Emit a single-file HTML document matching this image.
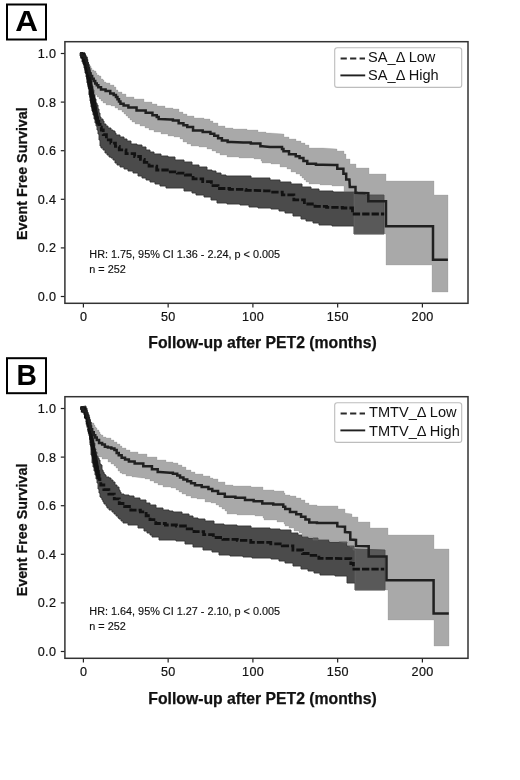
<!DOCTYPE html>
<html><head><meta charset="utf-8"><style>
html,body{margin:0;padding:0;background:#fff;}
svg{display:block;will-change:transform;}
text{font-family:"Liberation Sans",sans-serif;fill:#111;}
.tk{font-size:12.6px;letter-spacing:0.4px;stroke:#111;stroke-width:0.2px;}
.ax{font-size:15.75px;font-weight:bold;stroke:#111;stroke-width:0.25px;}
.ay{font-size:14.3px;font-weight:bold;stroke:#111;stroke-width:0.25px;}
.lg{font-size:14.58px;}
.hr{font-size:10.85px;stroke:#111;stroke-width:0.15px;}
.pl{font-size:30px;font-weight:bold;fill:#000;}
</style></head><body>
<svg width="520" height="780" viewBox="0 0 520 780">
<rect width="520" height="780" fill="#fff"/>
<polygon points="85.00,53.00 85.00,55.00 86.00,55.00 86.00,57.00 87.00,57.00 87.00,59.00 87.00,62.00 88.00,62.00 88.00,64.00 89.00,64.00 89.00,66.00 89.00,68.00 90.00,68.00 90.00,70.00 90.00,72.00 91.00,72.00 91.00,74.00 91.00,76.00 91.00,78.00 92.00,78.00 92.00,80.00 92.00,82.00 92.00,84.00 92.00,86.00 93.00,86.00 93.00,88.00 93.00,90.00 94.00,90.00 94.00,92.00 94.00,94.00 94.00,95.00 95.00,95.00 95.00,97.00 95.00,99.00 96.00,99.00 96.00,101.00 96.00,103.00 97.00,103.00 97.00,105.00 98.00,105.00 98.00,106.00 98.00,109.00 99.00,109.00 99.00,111.00 99.00,113.00 100.00,113.00 100.00,115.00 100.00,117.00 101.00,117.00 101.00,119.00 103.00,119.00 103.00,121.00 104.00,121.00 104.00,124.00 106.00,124.00 106.00,126.00 108.00,126.00 108.00,128.00 111.00,128.00 111.00,130.00 112.00,130.00 113.00,130.00 113.00,131.00 115.00,131.00 115.00,133.00 116.00,133.00 116.00,135.00 117.00,135.00 120.00,135.00 120.00,137.00 122.00,137.00 124.00,137.00 124.00,139.00 127.00,139.00 127.00,141.00 129.00,141.00 131.00,141.00 131.00,144.00 134.00,144.00 137.00,144.00 137.00,145.00 140.00,145.00 142.00,145.00 142.00,147.00 146.00,147.00 146.00,150.00 148.00,150.00 150.00,150.00 150.00,152.00 154.00,152.00 154.00,154.00 156.00,154.00 161.00,154.00 161.00,156.00 165.00,156.00 168.00,156.00 168.00,157.00 170.00,157.00 175.00,157.00 175.00,160.00 180.00,160.00 184.00,160.00 184.00,162.00 189.00,162.00 192.00,162.00 192.00,165.00 195.00,165.00 199.00,165.00 199.00,167.00 203.00,167.00 207.00,167.00 207.00,170.00 210.00,170.00 212.00,170.00 212.00,171.00 216.00,171.00 216.00,173.00 218.00,173.00 221.00,173.00 221.00,175.00 224.00,175.00 226.00,175.00 226.00,176.00 228.00,176.00 247.00,176.00 251.00,176.00 251.00,178.00 255.00,178.00 265.00,178.00 270.00,178.00 270.00,180.00 275.00,180.00 280.00,180.00 280.00,182.00 286.00,182.00 291.00,182.00 291.00,184.00 296.00,184.00 302.00,184.00 302.00,187.00 307.00,187.00 311.00,187.00 311.00,189.00 315.00,189.00 319.00,189.00 319.00,191.00 323.00,191.00 333.00,191.00 333.00,192.00 344.00,192.00 355.00,192.00 358.00,192.00 358.00,194.00 365.00,194.00 365.00,195.00 368.00,195.00 384.00,195.00 384.00,234.00 354.00,234.00 354.00,226.00 342.00,226.00 332.00,226.00 332.00,225.00 323.00,225.00 319.00,225.00 319.00,223.00 313.00,223.00 313.00,221.00 309.00,221.00 306.00,221.00 306.00,219.00 301.00,219.00 301.00,216.00 298.00,216.00 293.00,216.00 293.00,213.00 288.00,213.00 285.00,213.00 285.00,211.00 279.00,211.00 279.00,209.00 276.00,209.00 271.00,209.00 271.00,208.00 265.00,208.00 258.00,208.00 258.00,207.00 251.00,207.00 249.00,207.00 249.00,205.00 247.00,205.00 240.00,205.00 240.00,204.00 234.00,204.00 227.00,204.00 227.00,203.00 220.00,203.00 217.00,203.00 217.00,200.00 214.00,200.00 211.00,200.00 211.00,197.00 208.00,197.00 204.00,197.00 204.00,195.00 199.00,195.00 196.00,195.00 196.00,193.00 192.00,193.00 192.00,191.00 189.00,191.00 184.00,191.00 184.00,188.00 180.00,188.00 175.00,188.00 170.00,188.00 166.00,188.00 166.00,186.00 162.00,186.00 160.00,186.00 160.00,184.00 158.00,184.00 155.00,184.00 155.00,182.00 150.00,182.00 150.00,180.00 148.00,180.00 146.00,180.00 146.00,178.00 142.00,178.00 142.00,176.00 140.00,176.00 138.00,176.00 138.00,173.00 133.00,173.00 133.00,171.00 131.00,171.00 128.00,171.00 128.00,169.00 124.00,169.00 124.00,167.00 121.00,167.00 120.00,167.00 120.00,165.00 117.00,165.00 117.00,163.00 115.00,163.00 115.00,160.00 114.00,160.00 113.00,160.00 113.00,158.00 111.00,158.00 111.00,157.00 109.00,157.00 109.00,155.00 107.00,155.00 107.00,153.00 106.00,153.00 105.00,153.00 105.00,150.00 103.00,150.00 103.00,148.00 101.00,148.00 101.00,146.00 100.00,146.00 100.00,144.00 100.00,142.00 100.00,140.00 99.00,140.00 99.00,138.00 99.00,136.00 99.00,134.00 98.00,134.00 98.00,132.00 98.00,130.00 97.00,130.00 97.00,128.00 97.00,126.00 96.00,126.00 96.00,124.00 96.00,123.00 95.00,123.00 95.00,121.00 95.00,119.00 94.00,119.00 94.00,117.00 94.00,115.00 93.00,115.00 93.00,113.00 93.00,111.00 92.00,111.00 92.00,109.00 92.00,107.00 91.00,107.00 91.00,105.00 91.00,103.00 91.00,101.00 90.00,101.00 90.00,99.00 90.00,97.00 90.00,95.00 89.00,95.00 89.00,93.00 89.00,91.00 89.00,89.00 89.00,87.00 88.00,87.00 88.00,85.00 88.00,83.00 87.00,83.00 87.00,81.00 87.00,79.00 87.00,77.00 86.00,77.00 86.00,75.00 86.00,73.00 85.00,73.00 85.00,71.00 85.00,68.00 84.00,68.00 84.00,66.00 84.00,64.00 83.00,64.00 83.00,62.00 82.00,62.00 82.00,60.00 82.00,58.00 81.00,58.00 81.00,56.00 80.00,56.00 80.00,54.00 80.00,53.00" fill="#4b4b4b" stroke="#333" stroke-width="0.9"/>
<polygon points="80.00,54.00 83.00,54.00 83.00,56.00 86.00,56.00 86.00,58.00 87.00,58.00 87.00,60.00 88.00,60.00 88.00,63.00 89.00,63.00 89.00,65.00 90.00,65.00 90.00,66.00 91.00,66.00 91.00,68.00 92.00,68.00 92.00,70.00 94.00,70.00 94.00,71.00 96.00,71.00 96.00,73.00 97.00,73.00 97.00,75.00 99.00,75.00 99.00,76.00 101.00,76.00 101.00,79.00 102.00,79.00 103.00,79.00 103.00,80.00 104.00,80.00 104.00,82.00 106.00,82.00 106.00,83.00 108.00,83.00 110.00,83.00 110.00,85.00 112.00,85.00 114.00,85.00 114.00,87.00 115.00,87.00 116.00,87.00 116.00,90.00 118.00,90.00 118.00,92.00 119.00,92.00 122.00,92.00 122.00,94.00 126.00,94.00 126.00,97.00 129.00,97.00 134.00,97.00 134.00,99.00 138.00,99.00 144.00,99.00 144.00,102.00 150.00,102.00 152.00,102.00 152.00,104.00 157.00,104.00 157.00,106.00 160.00,106.00 165.00,106.00 165.00,108.00 170.00,108.00 173.00,108.00 173.00,109.00 176.00,109.00 179.00,109.00 179.00,112.00 182.00,112.00 183.00,112.00 183.00,114.00 187.00,114.00 187.00,116.00 189.00,116.00 194.00,116.00 194.00,118.00 199.00,118.00 204.00,118.00 204.00,119.00 208.00,119.00 210.00,119.00 210.00,121.00 213.00,121.00 213.00,123.00 214.00,123.00 218.00,123.00 218.00,126.00 222.00,126.00 225.00,126.00 225.00,128.00 228.00,128.00 233.00,128.00 233.00,129.00 239.00,129.00 247.00,129.00 247.00,130.00 255.00,130.00 258.00,130.00 258.00,132.00 262.00,132.00 266.00,132.00 266.00,133.00 270.00,133.00 283.00,134.00 284.00,134.00 284.00,135.00 284.00,137.00 289.00,137.00 289.00,139.00 294.00,139.00 296.00,139.00 296.00,141.00 301.00,141.00 301.00,143.00 304.00,143.00 305.00,143.00 305.00,145.00 309.00,145.00 309.00,148.00 311.00,148.00 317.00,148.00 323.00,148.00 337.00,149.00 337.00,151.00 344.00,151.00 344.00,154.00 346.00,154.00 346.00,159.00 350.00,159.00 350.00,164.00 356.00,164.00 356.00,168.00 369.00,168.00 369.00,174.00 386.00,174.00 386.00,181.00 434.00,181.00 434.00,195.00 448.00,195.00 448.00,292.00 432.00,292.00 432.00,265.00 386.00,265.00 386.00,234.00 354.00,234.00 354.00,192.00 344.00,192.00 344.00,186.00 336.00,186.00 332.00,186.00 332.00,185.00 328.00,185.00 320.00,185.00 320.00,184.00 311.00,184.00 309.00,184.00 309.00,182.00 307.00,182.00 306.00,182.00 306.00,180.00 304.00,180.00 304.00,178.00 302.00,178.00 302.00,176.00 300.00,176.00 300.00,174.00 296.00,174.00 296.00,172.00 294.00,172.00 291.00,172.00 291.00,169.00 287.00,169.00 287.00,167.00 284.00,167.00 280.00,167.00 280.00,164.00 276.00,164.00 271.00,164.00 271.00,163.00 265.00,163.00 262.00,163.00 262.00,161.00 261.00,161.00 261.00,159.00 260.00,159.00 254.00,159.00 254.00,158.00 247.00,158.00 239.00,158.00 239.00,157.00 232.00,157.00 227.00,157.00 227.00,155.00 222.00,155.00 220.00,155.00 220.00,153.00 216.00,153.00 216.00,151.00 214.00,151.00 212.00,151.00 212.00,149.00 207.00,149.00 207.00,147.00 205.00,147.00 199.00,147.00 199.00,146.00 193.00,146.00 191.00,146.00 191.00,144.00 187.00,144.00 187.00,142.00 185.00,142.00 183.00,142.00 183.00,139.00 180.00,139.00 180.00,137.00 178.00,137.00 174.00,137.00 174.00,136.00 170.00,136.00 168.00,136.00 168.00,134.00 165.00,134.00 161.00,134.00 161.00,132.00 156.00,132.00 154.00,132.00 154.00,130.00 149.00,130.00 149.00,128.00 145.00,128.00 145.00,126.00 142.00,126.00 140.00,126.00 140.00,124.00 135.00,124.00 135.00,122.00 133.00,122.00 132.00,122.00 132.00,120.00 130.00,120.00 130.00,118.00 128.00,118.00 128.00,116.00 126.00,116.00 126.00,114.00 124.00,114.00 124.00,112.00 123.00,112.00 122.00,112.00 122.00,110.00 118.00,110.00 118.00,108.00 115.00,108.00 115.00,106.00 114.00,106.00 111.00,106.00 111.00,105.00 106.00,105.00 106.00,103.00 104.00,103.00 103.00,103.00 103.00,101.00 101.00,101.00 101.00,99.00 99.00,99.00 99.00,97.00 98.00,97.00 97.00,97.00 97.00,95.00 95.00,95.00 95.00,93.00 94.00,93.00 94.00,91.00 93.00,91.00 93.00,90.00 92.00,90.00 92.00,88.00 92.00,86.00 91.00,86.00 91.00,84.00 91.00,82.00 91.00,80.00 90.00,80.00 90.00,78.00 90.00,76.00 89.00,76.00 89.00,74.00 89.00,72.00 89.00,70.00 88.00,70.00 88.00,68.00 88.00,66.00 88.00,64.00 87.00,64.00 87.00,62.00 86.00,62.00 86.00,60.00 84.00,60.00 84.00,58.00 83.00,58.00 83.00,56.00 81.00,56.00 81.00,54.00 80.00,54.00" fill="#646464" fill-opacity="0.556" stroke="#8a8a8a" stroke-opacity="0.3" stroke-width="0.8"/>
<polygon points="79.80,52.40 85.00,52.40 87.80,61.70 90.40,71.90 92.30,83.50 94.20,93.70 95.50,98.80 96.80,106.50 98.50,116.80 99.60,124.50 96.20,124.50 94.20,116.80 91.70,109.10 90.40,101.40 89.10,91.20 87.20,80.90 85.30,70.60 82.70,61.70 80.10,53.50" fill="#141414"/>
<polyline points="80.50,53.50 81.75,53.50 81.75,57.00 83.00,57.00 83.42,57.00 83.42,60.00 84.25,60.00 84.25,63.00 85.08,63.00 85.08,66.00 85.50,66.00 85.83,66.00 85.83,69.00 86.50,69.00 86.50,72.00 87.17,72.00 87.17,75.00 87.50,75.00 87.75,75.00 87.75,78.00 88.25,78.00 88.25,81.00 88.75,81.00 88.75,84.00 89.00,84.00 89.25,84.00 89.25,87.00 89.75,87.00 89.75,90.00 90.25,90.00 90.25,93.00 90.50,93.00 90.75,93.00 90.75,96.00 91.25,96.00 91.25,99.00 91.75,99.00 91.75,102.00 92.00,102.00 92.45,102.00 92.45,106.00 93.35,106.00 93.35,110.00 93.80,110.00 94.60,110.00 94.60,114.00 96.20,114.00 96.20,118.00 97.00,118.00 97.60,118.00 97.60,121.25 98.80,121.25 98.80,124.50 99.40,124.50 100.05,124.50 100.05,127.25 101.35,127.25 101.35,130.00 102.00,130.00 103.25,130.00 103.25,134.70 104.50,134.70 106.40,134.70 106.40,139.90 108.30,139.90 110.90,139.90 110.90,143.10 113.50,143.10 115.42,143.10 115.42,146.45 119.28,146.45 119.28,149.80 121.20,149.80 126.00,149.80 126.00,153.70 130.80,153.70 134.65,153.70 134.65,156.50 138.50,156.50 140.43,156.50 140.43,159.40 144.27,159.40 144.27,162.30 146.20,162.30 149.05,162.30 149.05,166.20 151.90,166.20 156.70,166.20 156.70,170.00 161.50,170.00 167.30,170.00 167.30,171.90 173.10,171.90 177.30,171.90 177.30,173.10 181.50,173.10 185.35,173.10 185.35,175.00 189.20,175.00 193.05,175.00 193.05,178.80 196.90,178.80 202.70,178.80 202.70,181.70 208.50,181.70 211.35,181.70 211.35,185.60 214.20,185.60 218.05,185.60 218.05,188.50 221.90,188.50 229.60,188.50 229.60,189.40 237.30,189.40 245.95,189.40 245.95,190.40 254.60,190.40 265.00,190.80 270.75,190.80 270.75,192.10 276.50,192.10 282.30,192.10 282.30,194.80 288.10,194.80 293.85,194.80 293.85,199.80 299.60,199.80 304.40,199.80 304.40,204.00 309.20,204.00 315.00,204.00 315.00,206.30 320.80,206.30 326.55,206.30 326.55,207.30 332.30,207.30 342.40,207.30 342.40,208.00 352.50,208.00 352.50,214.00 384.20,214.00" fill="none" stroke="#121212" stroke-width="2.8" stroke-dasharray="7.3 2.1"/>
<polyline points="80.00,53.50 81.50,53.50 81.50,55.75 84.50,55.75 84.50,58.00 86.00,58.00 86.32,58.00 86.32,60.57 86.95,60.57 86.95,63.13 87.58,63.13 87.58,65.70 88.22,65.70 88.22,68.27 88.85,68.27 88.85,70.83 89.48,70.83 89.48,73.40 89.80,73.40 90.58,73.40 90.58,76.10 92.12,76.10 92.12,78.80 92.90,78.80 93.68,78.80 93.68,81.10 95.22,81.10 95.22,83.40 96.00,83.40 96.78,83.40 96.78,85.30 98.32,85.30 98.32,87.20 99.10,87.20 101.00,87.20 101.00,89.50 102.90,89.50 105.60,89.50 105.60,91.10 108.30,91.10 110.25,91.10 110.25,93.40 112.20,93.40 113.70,93.40 113.70,94.90 115.20,94.90 115.95,94.90 115.95,97.10 117.45,97.10 117.45,99.30 118.95,99.30 118.95,101.50 120.45,101.50 120.45,103.70 121.20,103.70 123.60,103.70 123.60,105.60 128.40,105.60 128.40,107.50 130.80,107.50 136.55,107.50 136.55,110.40 142.30,110.40 145.68,110.40 145.68,112.80 152.43,112.80 152.43,115.20 155.80,115.20 156.75,115.20 156.75,117.10 158.65,117.10 158.65,119.00 159.60,119.00 170.00,119.40 172.90,119.40 172.90,120.40 175.80,120.40 178.65,120.40 178.65,123.30 181.50,123.30 183.43,123.30 183.43,125.20 187.27,125.20 187.27,127.10 189.20,127.10 193.05,127.10 193.05,130.40 196.90,130.40 202.70,130.40 202.70,131.90 208.50,131.90 210.43,131.90 210.43,133.85 214.27,133.85 214.27,135.80 216.20,135.80 218.10,135.80 218.10,138.20 221.90,138.20 221.90,140.60 223.80,140.60 227.65,140.60 227.65,141.90 231.50,141.90 243.10,142.50 250.80,142.50 250.80,143.50 258.50,143.50 260.40,143.50 260.40,146.30 262.30,146.30 270.00,146.90 281.30,146.90 282.02,146.90 282.02,149.10 283.48,149.10 283.48,151.30 284.20,151.30 289.00,151.30 289.00,154.20 293.80,154.20 295.73,154.20 295.73,156.15 299.57,156.15 299.57,158.10 301.50,158.10 303.43,158.10 303.43,160.95 307.27,160.95 307.27,163.80 309.20,163.80 315.95,163.80 315.95,164.80 322.70,164.80 334.20,165.00 337.30,165.00 337.30,168.80 343.40,168.80 343.40,173.70 346.20,173.70 346.20,179.50 349.40,179.50 349.80,187.00 355.50,187.00 355.50,192.80 368.30,193.30 368.30,201.30 386.00,201.30 386.00,226.30 433.00,226.30 433.00,259.70 447.90,259.70" fill="none" stroke="#202020" stroke-width="2.5"/>
<rect x="64.9" y="41.7" width="403.1" height="261.6" fill="none" stroke="#333" stroke-width="1.5"/>
<line x1="60.8" x2="64.5" y1="296.50" y2="296.50" stroke="#222" stroke-width="1.2"/>
<text x="56.4" y="300.90" text-anchor="end" class="tk">0.0</text>
<line x1="60.8" x2="64.5" y1="247.90" y2="247.90" stroke="#222" stroke-width="1.2"/>
<text x="56.4" y="252.30" text-anchor="end" class="tk">0.2</text>
<line x1="60.8" x2="64.5" y1="199.30" y2="199.30" stroke="#222" stroke-width="1.2"/>
<text x="56.4" y="203.70" text-anchor="end" class="tk">0.4</text>
<line x1="60.8" x2="64.5" y1="150.70" y2="150.70" stroke="#222" stroke-width="1.2"/>
<text x="56.4" y="155.10" text-anchor="end" class="tk">0.6</text>
<line x1="60.8" x2="64.5" y1="102.10" y2="102.10" stroke="#222" stroke-width="1.2"/>
<text x="56.4" y="106.50" text-anchor="end" class="tk">0.8</text>
<line x1="60.8" x2="64.5" y1="53.50" y2="53.50" stroke="#222" stroke-width="1.2"/>
<text x="56.4" y="57.90" text-anchor="end" class="tk">1.0</text>
<line x1="83.40" x2="83.40" y1="303.8" y2="307.6" stroke="#222" stroke-width="1.2"/>
<text x="83.60" y="320.8" text-anchor="middle" class="tk">0</text>
<line x1="168.15" x2="168.15" y1="303.8" y2="307.6" stroke="#222" stroke-width="1.2"/>
<text x="168.35" y="320.8" text-anchor="middle" class="tk">50</text>
<line x1="252.90" x2="252.90" y1="303.8" y2="307.6" stroke="#222" stroke-width="1.2"/>
<text x="253.10" y="320.8" text-anchor="middle" class="tk">100</text>
<line x1="337.65" x2="337.65" y1="303.8" y2="307.6" stroke="#222" stroke-width="1.2"/>
<text x="337.85" y="320.8" text-anchor="middle" class="tk">150</text>
<line x1="422.40" x2="422.40" y1="303.8" y2="307.6" stroke="#222" stroke-width="1.2"/>
<text x="422.60" y="320.8" text-anchor="middle" class="tk">200</text>
<text x="262.5" y="347.7" text-anchor="middle" class="ax">Follow-up after PET2 (months)</text>
<text transform="translate(26.8 173.6) rotate(-90)" text-anchor="middle" class="ay">Event Free Survival</text>
<rect x="334.7" y="47.8" width="127" height="39.6" rx="2.5" fill="#fff" stroke="#bdbdbd" stroke-width="1.1"/>
<line x1="340.6" x2="365" y1="58.5" y2="58.5" stroke="#2a2a2a" stroke-width="1.8" stroke-dasharray="6.2 3.3"/>
<line x1="340.4" x2="365.2" y1="75.4" y2="75.4" stroke="#202020" stroke-width="1.9"/>
<text x="368.1" y="62.0" class="lg">SA_Δ Low</text>
<text x="368.1" y="80.1" class="lg">SA_Δ High</text>
<text x="89.3" y="258.1" class="hr">HR: 1.75, 95% CI 1.36 - 2.24, p &lt; 0.005</text>
<text x="89.3" y="273.4" class="hr">n = 252</text>
<rect x="7" y="4.5" width="39" height="35" fill="#fff" stroke="#000" stroke-width="2"/>
<text transform="translate(26.7 30.5) scale(1.05 1)" text-anchor="middle" class="pl">A</text>
<polygon points="86.00,406.00 86.00,408.00 87.00,408.00 87.00,411.00 87.00,413.00 88.00,413.00 88.00,415.00 89.00,415.00 89.00,417.00 89.00,419.00 90.00,419.00 90.00,421.00 90.00,422.00 91.00,422.00 91.00,424.00 91.00,426.00 91.00,428.00 92.00,428.00 92.00,430.00 92.00,432.00 93.00,432.00 93.00,434.00 93.00,436.00 93.00,438.00 94.00,438.00 94.00,441.00 94.00,443.00 95.00,443.00 95.00,445.00 95.00,447.00 95.00,449.00 96.00,449.00 96.00,451.00 96.00,452.00 97.00,452.00 97.00,454.00 97.00,456.00 98.00,456.00 98.00,458.00 99.00,458.00 99.00,460.00 100.00,460.00 100.00,462.00 100.00,464.00 101.00,464.00 101.00,465.00 102.00,465.00 102.00,468.00 102.00,470.00 103.00,470.00 103.00,472.00 104.00,472.00 104.00,474.00 105.00,474.00 105.00,475.00 106.00,475.00 106.00,477.00 107.00,477.00 109.00,477.00 109.00,478.00 110.00,478.00 111.00,478.00 111.00,480.00 113.00,480.00 113.00,482.00 114.00,482.00 115.00,482.00 115.00,485.00 116.00,485.00 117.00,485.00 117.00,487.00 119.00,487.00 119.00,490.00 120.00,490.00 120.00,492.00 121.00,492.00 121.00,494.00 122.00,494.00 124.00,494.00 124.00,495.00 126.00,495.00 129.00,495.00 129.00,496.00 132.00,496.00 134.00,496.00 134.00,498.00 136.00,498.00 140.00,498.00 140.00,500.00 144.00,500.00 146.00,500.00 146.00,503.00 150.00,503.00 150.00,505.00 152.00,505.00 156.00,505.00 156.00,508.00 160.00,508.00 163.00,508.00 163.00,510.00 167.00,510.00 169.00,510.00 169.00,511.00 170.00,511.00 173.00,511.00 173.00,512.00 176.00,512.00 182.00,512.00 182.00,514.00 187.00,514.00 189.00,514.00 189.00,516.00 193.00,516.00 193.00,518.00 195.00,518.00 198.00,518.00 198.00,519.00 205.00,519.00 205.00,521.00 208.00,521.00 214.00,521.00 214.00,524.00 220.00,524.00 224.00,524.00 224.00,525.00 228.00,525.00 237.00,525.00 237.00,526.00 247.00,526.00 251.00,526.00 251.00,528.00 255.00,528.00 265.00,528.00 270.00,528.00 270.00,529.00 275.00,529.00 280.00,529.00 280.00,530.00 286.00,530.00 291.00,530.00 291.00,533.00 296.00,533.00 298.00,533.00 298.00,535.00 302.00,535.00 302.00,537.00 304.00,537.00 308.00,537.00 308.00,538.00 313.00,538.00 318.00,538.00 318.00,540.00 323.00,540.00 329.00,540.00 329.00,542.00 336.00,542.00 342.00,542.00 347.00,542.00 347.00,546.00 354.00,546.00 354.00,549.00 385.00,550.00 385.00,590.00 355.00,590.00 355.00,583.00 347.00,583.00 347.00,576.00 335.00,576.00 335.00,575.00 323.00,575.00 320.00,575.00 320.00,573.00 314.00,573.00 314.00,571.00 311.00,571.00 308.00,571.00 308.00,569.00 301.00,569.00 301.00,566.00 298.00,566.00 293.00,566.00 293.00,563.00 288.00,563.00 285.00,563.00 285.00,561.00 279.00,561.00 279.00,559.00 276.00,559.00 271.00,559.00 271.00,558.00 265.00,558.00 255.00,558.00 252.00,558.00 252.00,557.00 249.00,557.00 243.00,557.00 243.00,556.00 237.00,556.00 230.00,556.00 230.00,555.00 222.00,555.00 219.00,555.00 219.00,552.00 212.00,552.00 212.00,550.00 208.00,550.00 203.00,550.00 203.00,547.00 197.00,547.00 193.00,547.00 193.00,544.00 189.00,544.00 185.00,544.00 185.00,541.00 182.00,541.00 176.00,541.00 176.00,540.00 170.00,540.00 167.00,540.00 164.00,540.00 159.00,540.00 159.00,537.00 154.00,537.00 152.00,537.00 152.00,535.00 150.00,535.00 150.00,533.00 148.00,533.00 147.00,533.00 147.00,531.00 144.00,531.00 144.00,528.00 142.00,528.00 138.00,528.00 138.00,525.00 133.00,525.00 128.00,525.00 128.00,523.00 124.00,523.00 123.00,523.00 123.00,521.00 121.00,521.00 121.00,519.00 119.00,519.00 119.00,518.00 118.00,518.00 118.00,516.00 116.00,516.00 116.00,514.00 114.00,514.00 114.00,512.00 112.00,512.00 112.00,510.00 110.00,510.00 109.00,510.00 109.00,508.00 107.00,508.00 107.00,506.00 106.00,506.00 106.00,504.00 104.00,504.00 104.00,502.00 103.00,502.00 103.00,500.00 102.00,500.00 102.00,498.00 101.00,498.00 101.00,497.00 100.00,497.00 100.00,495.00 100.00,493.00 99.00,493.00 99.00,491.00 99.00,489.00 98.00,489.00 98.00,487.00 98.00,485.00 98.00,483.00 97.00,483.00 97.00,481.00 97.00,479.00 96.00,479.00 96.00,477.00 96.00,475.00 95.00,475.00 95.00,473.00 95.00,471.00 94.00,471.00 94.00,469.00 94.00,467.00 93.00,467.00 93.00,465.00 93.00,463.00 92.00,463.00 92.00,462.00 92.00,459.00 92.00,457.00 92.00,455.00 91.00,455.00 91.00,453.00 91.00,451.00 91.00,449.00 91.00,447.00 91.00,445.00 90.00,445.00 90.00,443.00 90.00,441.00 90.00,438.00 90.00,436.00 89.00,436.00 89.00,434.00 89.00,432.00 88.00,432.00 88.00,430.00 88.00,428.00 88.00,426.00 87.00,426.00 87.00,424.00 87.00,422.00 86.00,422.00 86.00,421.00 86.00,419.00 86.00,417.00 85.00,417.00 85.00,415.00 84.00,415.00 84.00,413.00 83.00,413.00 83.00,412.00 82.00,412.00 82.00,410.00 81.00,410.00 81.00,408.00 80.00,407.00" fill="#4b4b4b" stroke="#333" stroke-width="0.9"/>
<polygon points="80.00,408.00 83.00,408.00 83.00,410.00 86.00,410.00 87.00,410.00 87.00,412.00 88.00,412.00 88.00,414.00 89.00,414.00 89.00,416.00 89.00,418.00 90.00,418.00 90.00,420.00 90.00,422.00 91.00,422.00 92.00,422.00 92.00,423.00 94.00,423.00 94.00,425.00 95.00,425.00 95.00,427.00 96.00,427.00 96.00,428.00 97.00,428.00 97.00,430.00 99.00,430.00 99.00,432.00 100.00,432.00 100.00,434.00 101.00,434.00 101.00,435.00 103.00,435.00 103.00,437.00 104.00,437.00 106.00,437.00 106.00,438.00 108.00,438.00 111.00,438.00 111.00,440.00 113.00,440.00 114.00,440.00 114.00,442.00 116.00,442.00 117.00,442.00 117.00,444.00 120.00,444.00 120.00,446.00 122.00,446.00 122.00,448.00 123.00,448.00 126.00,448.00 126.00,450.00 130.00,450.00 130.00,452.00 133.00,452.00 138.00,452.00 138.00,454.00 142.00,454.00 147.00,454.00 147.00,457.00 152.00,457.00 157.00,457.00 157.00,460.00 162.00,460.00 166.00,460.00 166.00,462.00 170.00,462.00 173.00,462.00 173.00,463.00 177.00,463.00 178.00,463.00 178.00,465.00 182.00,465.00 182.00,467.00 184.00,467.00 186.00,467.00 186.00,470.00 189.00,470.00 191.00,470.00 191.00,472.00 195.00,472.00 195.00,474.00 197.00,474.00 203.00,474.00 203.00,476.00 208.00,476.00 210.00,476.00 210.00,478.00 213.00,478.00 213.00,479.00 214.00,479.00 218.00,479.00 218.00,482.00 222.00,482.00 225.00,482.00 225.00,485.00 228.00,485.00 233.00,485.00 233.00,486.00 239.00,486.00 251.00,486.00 251.00,487.00 262.00,487.00 263.00,487.00 263.00,490.00 264.00,490.00 274.00,490.00 274.00,491.00 283.00,491.00 284.00,491.00 284.00,493.00 285.00,493.00 285.00,495.00 290.00,495.00 290.00,496.00 294.00,496.00 296.00,496.00 296.00,498.00 301.00,498.00 301.00,500.00 304.00,500.00 305.00,500.00 305.00,503.00 309.00,503.00 309.00,505.00 311.00,505.00 317.00,505.00 317.00,506.00 323.00,506.00 338.00,506.00 338.00,509.00 345.00,509.00 345.00,513.00 352.00,514.00 352.00,517.00 358.00,517.00 358.00,522.00 370.00,522.00 370.00,528.00 388.00,528.00 388.00,535.00 434.00,535.00 434.00,549.00 449.00,549.00 449.00,646.00 434.00,646.00 434.00,620.00 388.00,620.00 388.00,590.00 355.00,590.00 355.00,550.00 353.00,550.00 353.00,547.00 352.00,547.00 350.00,547.00 350.00,546.00 348.00,546.00 348.00,544.00 348.00,543.00 347.00,543.00 340.00,542.00 339.00,542.00 339.00,541.00 338.00,541.00 330.00,541.00 330.00,540.00 323.00,540.00 313.00,540.00 313.00,537.00 304.00,537.00 303.00,537.00 303.00,535.00 302.00,535.00 302.00,533.00 299.00,533.00 299.00,531.00 294.00,531.00 294.00,528.00 292.00,528.00 289.00,528.00 289.00,526.00 285.00,526.00 285.00,524.00 284.00,524.00 284.00,522.00 277.00,522.00 277.00,520.00 270.00,520.00 267.00,520.00 264.00,520.00 264.00,518.00 263.00,518.00 263.00,516.00 262.00,516.00 255.00,516.00 255.00,515.00 247.00,515.00 237.00,515.00 237.00,514.00 228.00,514.00 227.00,514.00 227.00,511.00 226.00,511.00 225.00,511.00 225.00,509.00 222.00,509.00 222.00,507.00 219.00,507.00 219.00,505.00 218.00,505.00 216.00,505.00 216.00,503.00 211.00,503.00 211.00,502.00 208.00,502.00 205.00,502.00 205.00,499.00 201.00,499.00 197.00,499.00 197.00,498.00 193.00,498.00 191.00,498.00 191.00,496.00 186.00,496.00 186.00,494.00 184.00,494.00 182.00,494.00 182.00,492.00 179.00,492.00 179.00,490.00 178.00,490.00 176.00,490.00 176.00,488.00 175.00,488.00 171.00,488.00 171.00,487.00 167.00,487.00 163.00,487.00 163.00,485.00 160.00,485.00 158.00,485.00 158.00,483.00 154.00,483.00 154.00,481.00 152.00,481.00 150.00,481.00 150.00,479.00 145.00,479.00 145.00,478.00 142.00,478.00 135.00,477.00 132.00,477.00 132.00,476.00 129.00,476.00 126.00,476.00 126.00,474.00 124.00,474.00 122.00,474.00 122.00,473.00 120.00,473.00 120.00,471.00 119.00,471.00 118.00,471.00 118.00,468.00 116.00,468.00 116.00,466.00 115.00,466.00 114.00,466.00 114.00,464.00 111.00,464.00 111.00,462.00 110.00,462.00 108.00,462.00 108.00,459.00 105.00,459.00 102.00,459.00 102.00,457.00 99.00,457.00 98.00,457.00 98.00,454.00 97.00,454.00 97.00,452.00 97.00,450.00 96.00,450.00 96.00,448.00 96.00,446.00 95.00,446.00 95.00,444.00 95.00,442.00 94.00,442.00 94.00,440.00 93.00,440.00 93.00,437.00 92.00,437.00 92.00,435.00 92.00,433.00 91.00,433.00 91.00,431.00 91.00,429.00 90.00,429.00 90.00,428.00 90.00,426.00 89.00,426.00 89.00,424.00 89.00,422.00 88.00,422.00 88.00,420.00 87.00,420.00 87.00,418.00 86.00,418.00 86.00,416.00 85.00,416.00 85.00,414.00 83.00,414.00 83.00,412.00 82.00,412.00 82.00,410.00 81.00,410.00 81.00,408.00 80.00,408.00" fill="#646464" fill-opacity="0.556" stroke="#8a8a8a" stroke-opacity="0.3" stroke-width="0.8"/>
<polygon points="80.60,406.60 85.60,406.60 86.50,408.50 89.10,416.70 91.70,428.20 93.60,438.50 95.50,448.70 97.40,457.70 98.50,465.00 99.50,472.00 100.20,479.00 96.80,479.00 94.50,470.00 92.60,462.00 91.50,455.00 91.00,448.70 89.70,438.50 87.80,428.20 85.30,416.70 83.00,411.50 80.80,408.50" fill="#141414"/>
<polyline points="81.00,408.00 82.25,408.00 82.25,411.00 83.50,411.00 84.12,411.00 84.12,414.00 85.38,414.00 85.38,417.00 86.00,417.00 86.38,417.00 86.38,420.00 87.15,420.00 87.15,423.00 87.92,423.00 87.92,426.00 88.30,426.00 88.63,426.00 88.63,429.00 89.30,429.00 89.30,432.00 89.97,432.00 89.97,435.00 90.30,435.00 90.58,435.00 90.58,438.33 91.15,438.33 91.15,441.67 91.72,441.67 91.72,445.00 92.00,445.00 92.25,445.00 92.25,448.33 92.75,448.33 92.75,451.67 93.25,451.67 93.25,455.00 93.50,455.00 94.00,455.00 94.00,459.00 95.00,459.00 95.00,463.00 95.50,463.00 96.08,463.00 96.08,467.25 97.22,467.25 97.22,471.50 97.80,471.50 98.22,471.50 98.22,475.25 99.08,475.25 99.08,479.00 99.50,479.00 99.92,479.00 99.92,482.00 100.78,482.00 100.78,485.00 101.20,485.00 103.85,485.00 103.85,489.60 106.50,489.60 108.85,489.60 108.85,494.20 111.20,494.20 114.25,494.20 114.25,498.80 117.30,498.80 119.25,498.80 119.25,503.50 121.20,503.50 124.65,503.50 124.65,506.50 128.10,506.50 130.80,506.50 130.80,510.20 133.50,510.20 136.50,510.20 140.35,510.20 140.35,511.90 144.20,511.90 146.12,511.90 146.12,515.75 149.97,515.75 149.97,519.60 151.90,519.60 155.75,519.60 155.75,523.50 159.60,523.50 165.40,523.50 165.40,525.00 171.20,525.00 176.35,525.00 176.35,526.00 181.50,526.00 185.35,526.00 185.35,528.80 189.20,528.80 194.00,528.80 194.00,531.70 198.80,531.70 203.65,531.70 203.65,534.60 208.50,534.60 213.30,534.60 213.30,537.50 218.10,537.50 222.90,537.50 222.90,539.40 227.70,539.40 237.30,539.40 237.30,540.40 246.90,540.40 250.75,540.40 250.75,542.30 254.60,542.30 265.00,542.40 270.75,542.40 270.75,543.80 276.50,543.80 282.30,543.80 282.30,545.80 288.10,545.80 292.90,545.80 292.90,550.00 297.70,550.00 302.50,550.00 302.50,553.50 307.30,553.50 311.15,553.50 311.15,555.30 315.00,555.30 318.85,555.30 318.85,558.30 322.70,558.30 348.50,558.60 350.80,558.60 350.80,563.50 353.10,563.50 353.38,563.50 353.38,566.35 353.93,566.35 353.93,569.20 354.20,569.20 384.20,569.20" fill="none" stroke="#121212" stroke-width="2.8" stroke-dasharray="7.3 2.1"/>
<polyline points="80.00,408.50 83.00,408.50 83.00,411.00 86.00,411.00 86.42,411.00 86.42,413.33 87.25,413.33 87.25,415.67 88.08,415.67 88.08,418.00 88.50,418.00 88.86,418.00 88.86,420.80 89.59,420.80 89.59,423.60 90.31,423.60 90.31,426.40 91.04,426.40 91.04,429.20 91.40,429.20 92.18,429.20 92.18,432.25 93.72,432.25 93.72,435.30 94.50,435.30 95.25,435.30 95.25,437.60 96.75,437.60 96.75,439.90 97.50,439.90 99.05,439.90 99.05,443.00 100.60,443.00 102.15,443.00 102.15,444.50 103.70,444.50 104.85,444.50 104.85,446.80 106.00,446.80 107.90,446.80 107.90,447.60 109.80,447.60 111.35,447.60 111.35,448.40 112.90,448.40 114.45,448.40 114.45,449.90 116.00,449.90 116.65,449.90 116.65,452.90 117.30,452.90 118.75,452.90 118.75,455.30 121.65,455.30 121.65,457.70 123.10,457.70 125.03,457.70 125.03,459.60 128.88,459.60 128.88,461.50 130.80,461.50 134.65,461.50 134.65,463.50 138.50,463.50 143.30,463.50 143.30,466.30 148.10,466.30 151.95,466.30 151.95,469.20 155.80,469.20 157.70,469.20 157.70,472.10 159.60,472.10 170.00,472.70 172.90,472.70 172.90,473.70 175.80,473.70 177.23,473.70 177.23,475.60 180.07,475.60 180.07,477.50 181.50,477.50 183.43,477.50 183.43,479.40 187.27,479.40 187.27,481.30 189.20,481.30 191.12,481.30 191.12,483.25 194.97,483.25 194.97,485.20 196.90,485.20 201.70,485.20 201.70,487.10 206.50,487.10 208.43,487.10 208.43,489.05 212.27,489.05 212.27,491.00 214.20,491.00 218.05,491.00 218.05,493.80 221.90,493.80 224.80,493.80 224.80,496.70 227.70,496.70 235.40,496.70 235.40,497.70 243.10,497.70 245.00,497.70 245.00,500.00 246.90,500.00 253.65,500.00 253.65,501.20 260.40,501.20 262.30,501.20 262.30,503.50 264.20,503.50 273.25,503.50 273.25,504.60 282.30,504.60 283.27,504.60 283.27,506.80 285.23,506.80 285.23,509.00 286.20,509.00 290.00,509.00 290.00,511.90 293.80,511.90 296.23,511.90 296.23,514.30 301.07,514.30 301.07,516.70 303.50,516.70 305.43,516.70 305.43,519.60 309.27,519.60 309.27,522.50 311.20,522.50 316.95,522.50 316.95,523.10 322.70,523.10 336.20,523.10 337.30,523.10 337.30,526.40 345.00,526.70 345.00,532.10 350.30,532.50 350.30,539.50 356.00,539.90 356.00,545.90 368.70,546.30 368.70,556.50 386.50,556.50 386.50,580.30 433.60,580.30 433.60,613.50 448.80,613.50" fill="none" stroke="#202020" stroke-width="2.5"/>
<rect x="64.9" y="396.7" width="403.1" height="261.6" fill="none" stroke="#333" stroke-width="1.5"/>
<line x1="60.8" x2="64.5" y1="651.50" y2="651.50" stroke="#222" stroke-width="1.2"/>
<text x="56.4" y="655.90" text-anchor="end" class="tk">0.0</text>
<line x1="60.8" x2="64.5" y1="602.90" y2="602.90" stroke="#222" stroke-width="1.2"/>
<text x="56.4" y="607.30" text-anchor="end" class="tk">0.2</text>
<line x1="60.8" x2="64.5" y1="554.30" y2="554.30" stroke="#222" stroke-width="1.2"/>
<text x="56.4" y="558.70" text-anchor="end" class="tk">0.4</text>
<line x1="60.8" x2="64.5" y1="505.70" y2="505.70" stroke="#222" stroke-width="1.2"/>
<text x="56.4" y="510.10" text-anchor="end" class="tk">0.6</text>
<line x1="60.8" x2="64.5" y1="457.10" y2="457.10" stroke="#222" stroke-width="1.2"/>
<text x="56.4" y="461.50" text-anchor="end" class="tk">0.8</text>
<line x1="60.8" x2="64.5" y1="408.50" y2="408.50" stroke="#222" stroke-width="1.2"/>
<text x="56.4" y="412.90" text-anchor="end" class="tk">1.0</text>
<line x1="83.40" x2="83.40" y1="658.8" y2="662.6" stroke="#222" stroke-width="1.2"/>
<text x="83.60" y="675.8" text-anchor="middle" class="tk">0</text>
<line x1="168.15" x2="168.15" y1="658.8" y2="662.6" stroke="#222" stroke-width="1.2"/>
<text x="168.35" y="675.8" text-anchor="middle" class="tk">50</text>
<line x1="252.90" x2="252.90" y1="658.8" y2="662.6" stroke="#222" stroke-width="1.2"/>
<text x="253.10" y="675.8" text-anchor="middle" class="tk">100</text>
<line x1="337.65" x2="337.65" y1="658.8" y2="662.6" stroke="#222" stroke-width="1.2"/>
<text x="337.85" y="675.8" text-anchor="middle" class="tk">150</text>
<line x1="422.40" x2="422.40" y1="658.8" y2="662.6" stroke="#222" stroke-width="1.2"/>
<text x="422.60" y="675.8" text-anchor="middle" class="tk">200</text>
<text x="262.5" y="703.6" text-anchor="middle" class="ax">Follow-up after PET2 (months)</text>
<text transform="translate(26.8 530.0) rotate(-90)" text-anchor="middle" class="ay">Event Free Survival</text>
<rect x="334.7" y="402.8" width="127" height="39.6" rx="2.5" fill="#fff" stroke="#bdbdbd" stroke-width="1.1"/>
<line x1="340.6" x2="365" y1="413.5" y2="413.5" stroke="#2a2a2a" stroke-width="1.8" stroke-dasharray="6.2 3.3"/>
<line x1="340.4" x2="365.2" y1="430.4" y2="430.4" stroke="#202020" stroke-width="1.9"/>
<text x="369.0" y="417.4" class="lg">TMTV_Δ Low</text>
<text x="369.0" y="435.5" class="lg">TMTV_Δ High</text>
<text x="89.3" y="614.7" class="hr">HR: 1.64, 95% CI 1.27 - 2.10, p &lt; 0.005</text>
<text x="89.3" y="630.0" class="hr">n = 252</text>
<rect x="7" y="358.2" width="39" height="35" fill="#fff" stroke="#000" stroke-width="2"/>
<text transform="translate(26.7 385.3) scale(0.94 1)" text-anchor="middle" class="pl">B</text>
</svg>
</body></html>
